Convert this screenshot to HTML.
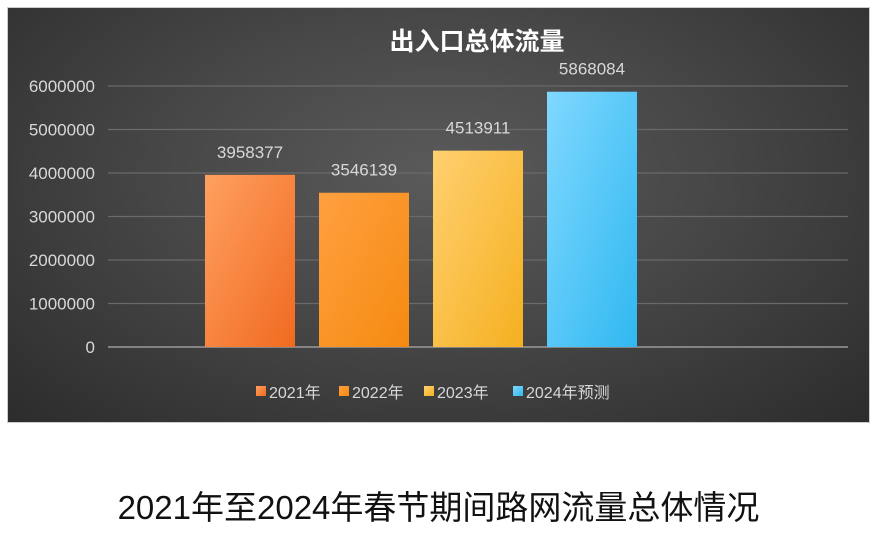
<!DOCTYPE html>
<html><head><meta charset="utf-8"><style>
body{margin:0;width:877px;height:536px;background:#fff;overflow:hidden;font-family:"Liberation Sans","Noto Sans CJK SC",sans-serif}
#chart{position:absolute;left:7px;top:7px;width:863px;height:416px;background:radial-gradient(ellipse at 50% 40%,#5a5a5a 0%,#474747 45%,#2c2c2c 100%);border:1px solid #ccc;box-sizing:border-box}
#caption{position:absolute;left:0;width:877px;top:481px;text-align:center;font-size:33px;color:#111}
</style></head><body>
<div id="chart">
<svg id="svg" width="863" height="416"></svg>
</div>
<div id="caption">2021年至2024年春节期间路网流量总体情况</div>
<script>
const categories=["2021年","2022年","2023年","2024年预测"];
const values=[3958377,3546139,4513911,5868084];
const ticks=[0,1000000,2000000,3000000,4000000,5000000,6000000];
const colorsA=["#ffa060","#ffa040","#ffd070","#80d8ff"];
const colorsB=["#f06a20","#f58a10","#f5b020","#30b8f0"];
const NS="http://www.w3.org/2000/svg";
const svg=document.getElementById('svg');
const ox=8,oy=9;
const y=v=>348-oy-v/6000000*261;
const x=i=>205-ox+i*114;
const bw=90;
function mk(t,a,p){const e=document.createElementNS(NS,t);for(const k in a)e.setAttribute(k,a[k]);(p||svg).appendChild(e);return e;}
const defs=mk('defs',{});
categories.forEach((c,i)=>{const g=mk('linearGradient',{id:'g'+i,x1:0,y1:0,x2:1,y2:1},defs);mk('stop',{offset:0,'stop-color':colorsA[i]},g);mk('stop',{offset:1,'stop-color':colorsB[i]},g);});
const title=mk('text',{x:477-ox,y:51-oy,'text-anchor':'middle','font-size':25,'font-weight':'bold',fill:'#fff'});title.textContent='出入口总体流量';


ticks.forEach(t=>{
const l=mk('line',{x1:108-ox,x2:848-ox,y1:y(t),y2:y(t),stroke:t===0?'#9a9a9a':'#6a6a6a','stroke-width':t===0?1.5:1.2});


const tx=mk('text',{x:95-ox,y:y(t)+6,'text-anchor':'end','font-size':17,fill:'#d8d8d8'});tx.textContent=t;


});
values.forEach((v,i)=>{
const r=mk('rect',{x:x(i),y:y(v),width:bw,height:y(0)-y(v),fill:'url(#g'+i+')'});


const t=mk('text',{x:x(i)+bw/2,y:y(v)-17,'text-anchor':'middle','font-size':17,fill:'#d8d8d8'});t.textContent=v;


});
const lx=[256,339,424,513];
categories.forEach((c,i)=>{
const g=mk('g',{});


mk('rect',{x:lx[i]-ox,y:387-oy,width:10,height:10,fill:'url(#g'+i+')'},g);
const t=mk('text',{x:lx[i]+13-ox,y:399-oy,'font-size':16,fill:'#d8d8d8'},g);t.textContent=c;
});
</script>
</body></html>
